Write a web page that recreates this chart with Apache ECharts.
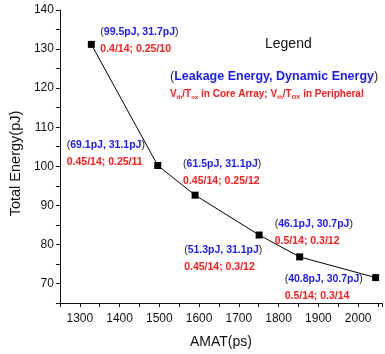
<!DOCTYPE html>
<html>
<head>
<meta charset="utf-8">
<script src="https://cdn.jsdelivr.net/npm/echarts@6/dist/echarts.min.js"></script>
<style>
  html, body { margin: 0; padding: 0; background: #fff; }
  #chart { width: 385px; height: 354px; }
</style>
</head>
<body>
<div id="chart"></div>
<script>
// AMAT (ps) vs total energy (pJ)
const amat = [ 1329, 1496, 1590, 1751, 1853, 2044 ];
const totalEnergy = [ 131.2, 100.2, 92.6, 82.4, 76.8, 71.5 ];
const leakageEnergy = [ '99.5pJ', '69.1pJ', '61.5pJ', '51.3pJ', '46.1pJ', '40.8pJ' ];
const dynamicEnergy = [ '31.7pJ', '31.1pJ', '31.1pJ', '31.1pJ', '30.7pJ', '30.7pJ' ];
const vthTox = [
	'0.4/14; 0.25/10',
	'0.45/14; 0.25/11',
	'0.45/14; 0.25/12',
	'0.45/14; 0.3/12',
	'0.5/14; 0.3/12',
	'0.5/14; 0.3/14'
];

// label offset from the marker centre: [left edge, centre of first line]
const labelOffsets = [ [ 9, -16 ], [ -91, -24 ], [ -12, -35 ], [ -75, 12 ], [ -25, -36 ], [ -91, -2 ] ];

const FONT = 'Liberation Sans, Arial, sans-serif';
const BLUE = '#1a1aff';
const RED = '#ff1a1a';

const richStyles = {
	p: { color: '#222', fontSize: 10.5, fontFamily: FONT, lineHeight: 17 },
	b: { color: BLUE, fontSize: 10.5, fontWeight: 'bold', fontFamily: FONT, lineHeight: 17 },
	r: { color: RED, fontSize: 10.5, fontWeight: 'bold', fontFamily: FONT, lineHeight: 17 }
};

const seriesData = amat.map( ( x, i ) => ( {
	value: [ x, totalEnergy[ i ] ],
	label: {
		show: true,
		position: [ labelOffsets[ i ][ 0 ] + 3.5, labelOffsets[ i ][ 1 ] - 5 + 3.5 ],
		formatter: `{p|(}{b|${ leakageEnergy[ i ] }, ${ dynamicEnergy[ i ] }}{p|)}\n{r|${ vthTox[ i ] }}`,
		rich: richStyles
	}
} ) );

const chart = echarts.init( document.getElementById( 'chart' ), null, { renderer: 'canvas' } );

const sub = { fill: RED, fontSize: 6, fontWeight: 'bold', fontFamily: FONT, lineHeight: 6, verticalAlign: 'bottom' };
const redMain = { fill: RED, fontSize: 10, fontWeight: 'bold', fontFamily: FONT, lineHeight: 12 };

chart.setOption( {
	animation: false,
	grid: { left: 59, right: 0, top: 10, bottom: 49, containLabel: false },
	xAxis: {
		type: 'value',
		min: 1250,
		max: 2060,
		interval: 50,
		name: 'AMAT(ps)',
		nameLocation: 'middle',
		nameGap: 32,
		nameTextStyle: { fontFamily: FONT, fontSize: 14, color: '#111' },
		axisLine: { lineStyle: { color: '#111', width: 1 } },
		axisTick: { length: 4, lineStyle: { color: '#111' } },
		axisLabel: {
			margin: 10,
			fontFamily: FONT,
			fontSize: 12,
			color: '#111',
			formatter: ( v ) => ( v % 100 === 0 ? String( v ) : '' )
		},
		splitLine: { show: false }
	},
	yAxis: {
		type: 'value',
		min: 65,
		max: 140,
		interval: 5,
		name: 'Total Energy(pJ)',
		nameLocation: 'middle',
		nameGap: 34,
		nameTextStyle: { fontFamily: FONT, fontSize: 14.5, color: '#111', padding: [ 0, 14, 0, 0 ] },
		axisLine: { show: true, lineStyle: { color: '#111', width: 1 } },
		axisTick: { show: true, length: 4, lineStyle: { color: '#111' } },
		axisLabel: {
			margin: 6,
			fontFamily: FONT,
			fontSize: 12,
			color: '#111',
			formatter: ( v ) => ( v % 10 === 0 ? String( v ) : '' )
		},
		splitLine: { show: false }
	},
	series: [ {
		type: 'line',
		data: seriesData,
		symbol: 'rect',
		symbolSize: 7,
		itemStyle: { color: '#000' },
		lineStyle: { color: '#000', width: 1 }
	} ],
	graphic: [
		{
			type: 'text',
			left: 265,
			top: 37,
			style: { text: 'Legend', font: '14px ' + FONT, fill: '#111' }
		},
		{
			type: 'text',
			left: 170,
			top: 70,
			style: {
				text: '{p|(}{b|Leakage Energy, Dynamic Energy}{p|)}',
				rich: {
					p: { fill: '#222', fontSize: 12.5, fontFamily: FONT },
					b: { fill: BLUE, fontSize: 12.5, fontWeight: 'bold', fontFamily: FONT }
				}
			}
		},
		{
			type: 'text',
			left: 170,
			top: 89,
			style: {
				text: '{m|V}{s|th}{m|/T}{s|ox}{m| in Core Array; V}{s|th}{m|/T}{s|OX}{m| in Peripheral}',
				rich: { m: redMain, s: sub }
			}
		}
	]
} );
</script>
</body>
</html>
